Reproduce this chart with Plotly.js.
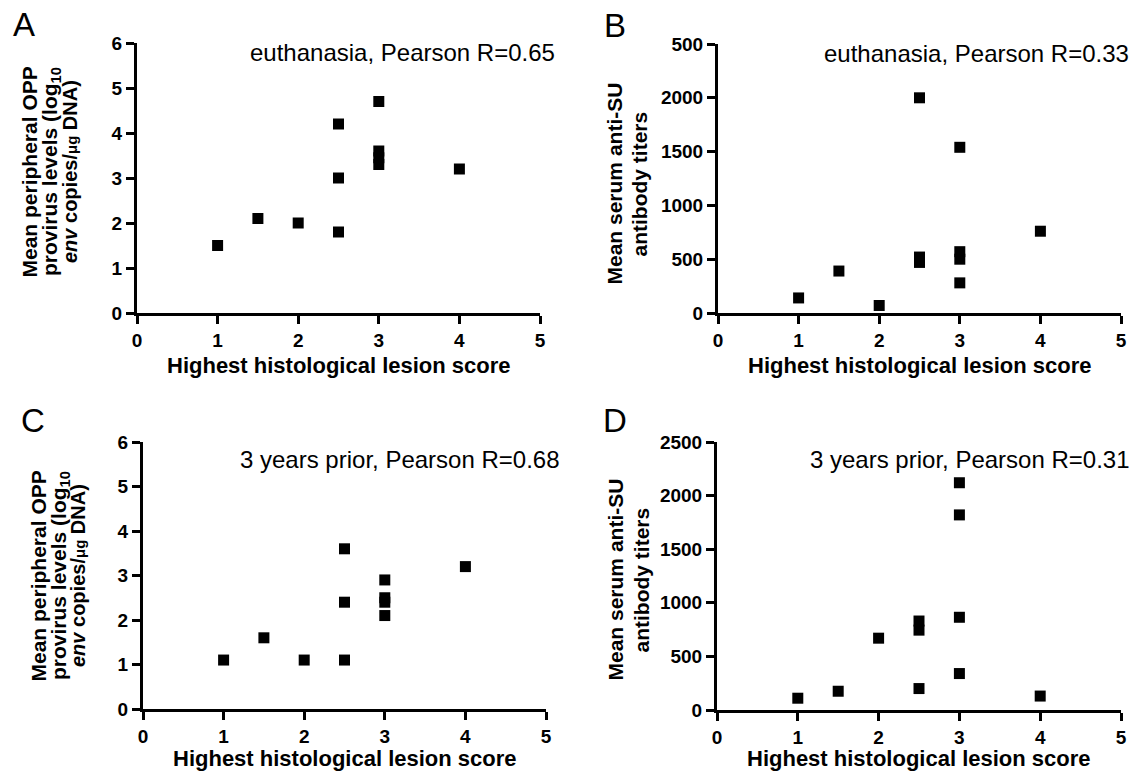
<!DOCTYPE html>
<html>
<head>
<meta charset="utf-8">
<script src="https://cdn.plot.ly/plotly-3.0.1.min.js"></script>
<style>
html,body{margin:0;padding:0;background:#fff;}
#chart{width:1134px;height:772px;}
</style>
</head>
<body>
<div id="chart"></div>
<script>
// ---- data ----
const lesionA = [1, 1.5, 2, 2.5, 2.5, 2.5, 3, 3, 3, 3, 4];
const proviralEuth = [1.5, 2.1, 2.0, 4.2, 3.0, 1.8, 4.7, 3.6, 3.45, 3.3, 3.2];

const lesionB = [1, 1.5, 2, 2.5, 2.5, 2.5, 3, 3, 3, 3, 4];
const titerEuth = [140, 390, 70, 2000, 520, 470, 1540, 570, 500, 280, 760];

const lesionC = [1, 1.5, 2, 2.5, 2.5, 2.5, 3, 3, 3, 3, 4];
const proviralPrior = [1.1, 1.6, 1.1, 3.6, 2.4, 1.1, 2.9, 2.5, 2.4, 2.1, 3.2];

const lesionD = [1, 1.5, 2, 2.5, 2.5, 2.5, 3, 3, 3, 3, 4];
const titerPrior = [110, 175, 670, 830, 745, 200, 2120, 1820, 865, 340, 130];

const xTicks = [0, 1, 2, 3, 4, 5];
const xTickText = ['0', '1', '2', '3', '4', '5'];
const provTicks = [0, 1, 2, 3, 4, 5, 6];
const provTickText = ['0', '1', '2', '3', '4', '5', '6'];
const titerTicks = [0, 500, 1000, 1500, 2000, 2500];
const titerTextB = ['0', '500', '1000', '1500', '2000', '500'];
const titerTextD = ['0', '500', '1000', '1500', '2000', '2500'];

const panelLabels = ['A', 'B', 'C', 'D'];
const notes = ['euthanasia, Pearson R=0.65', 'euthanasia, Pearson R=0.33',
               '3 years prior, Pearson R=0.68', '3 years prior, Pearson R=0.31'];
const xTitle = 'Highest histological lesion score';
const provTitle = ['Mean peripheral OPP', 'provirus levels (log<sub>10</sub>',
                   '<i>env</i> copies/<span style="font-size:15px">μg</span> DNA)'];
const titerTitle = ['Mean serum anti-SU', 'antibody titers'];

// ---- layout helpers (pixel -> paper) ----
const W = 1134, H = 772;
const px = v => v / W;
const py = v => 1 - v / H;
const FONT = 'Liberation Sans, Arial, sans-serif';
const bold = arr => arr.map(s => '<b>' + s + '</b>');

function xa(l, r, anchor) {
  return {
    domain: [px(l), px(r)], anchor: anchor, range: [0, 5],
    tickvals: xTicks, ticktext: bold(xTickText), showgrid: false, zeroline: false,
    showline: true, linewidth: 3, linecolor: '#000',
    ticks: 'outside', ticklen: 8, tickwidth: 3, tickcolor: '#000',
    tickfont: {family: FONT, size: 19, color: '#000', weight: 700},
    fixedrange: true
  };
}
function ya(t, b, anchor, rng, vals, text) {
  return {
    domain: [py(b), py(t)], anchor: anchor, range: rng,
    tickvals: vals, ticktext: bold(text), showgrid: false, zeroline: false,
    showline: true, linewidth: 3, linecolor: '#000',
    ticks: 'outside', ticklen: 8, tickwidth: 3, tickcolor: '#000',
    tickfont: {family: FONT, size: 19, color: '#000', weight: 700},
    fixedrange: true
  };
}

const mk = {symbol: 'square', size: 11, color: '#000'};
const traces = [
  {x: lesionA, y: proviralEuth, xaxis: 'x', yaxis: 'y', mode: 'markers', type: 'scatter', marker: mk, cliponaxis: false},
  {x: lesionB, y: titerEuth, xaxis: 'x2', yaxis: 'y2', mode: 'markers', type: 'scatter', marker: mk, cliponaxis: false},
  {x: lesionC, y: proviralPrior, xaxis: 'x3', yaxis: 'y3', mode: 'markers', type: 'scatter', marker: mk, cliponaxis: false},
  {x: lesionD, y: titerPrior, xaxis: 'x4', yaxis: 'y4', mode: 'markers', type: 'scatter', marker: mk, cliponaxis: false}
];

// panel geometry in pixels (ytl = left edge of each rotated title line box)
const P = [
  {l: 137, r: 540, t: 43, b: 313, tb: 365, letter: [24, 24], note: [557, 52], ytl: [15, 36, 57], yc: 172},
  {l: 718, r: 1121, t: 44, b: 313, tb: 365, letter: [615, 25], note: [1131, 53], ytl: [601, 626], yc: 184},
  {l: 143, r: 546, t: 442, b: 709, tb: 758, letter: [33, 420], note: [562, 459], ytl: [24, 45, 65], yc: 576},
  {l: 717, r: 1121, t: 442, b: 710, tb: 758, letter: [615, 420], note: [1132, 459], ytl: [601, 627], yc: 580}
];

const ann = [];
P.forEach((p, i) => {
  ann.push({text: panelLabels[i], x: px(p.letter[0]), y: py(p.letter[1]), xref: 'paper', yref: 'paper',
    xanchor: 'center', yanchor: 'middle', showarrow: false,
    font: {family: FONT, size: 33, color: '#000'}});
  ann.push({text: notes[i], x: px(p.note[0]), y: py(p.note[1]), xref: 'paper', yref: 'paper',
    xanchor: 'right', yanchor: 'middle', showarrow: false,
    font: {family: FONT, size: 24, color: '#000'}});
  ann.push({text: '<b>' + xTitle + '</b>', x: px((p.l + p.r) / 2), y: py(p.tb), xref: 'paper', yref: 'paper',
    xanchor: 'center', yanchor: 'middle', showarrow: false,
    font: {family: FONT, size: 22, color: '#000'}});
  const lines = (i % 2 === 0) ? provTitle : titerTitle;
  lines.forEach((ln, k) => {
    ann.push({text: '<b>' + ln + '</b>', x: px(p.ytl[k]), y: py(p.yc), xref: 'paper', yref: 'paper',
      xanchor: 'left', yanchor: 'middle', textangle: -90, showarrow: false,
      font: {family: FONT, size: (i % 2 === 0 && k === 2) ? 20 : 21, color: '#000'}});
  });
});

const layout = {
  width: W, height: H, margin: {l: 0, r: 0, t: 0, b: 0},
  paper_bgcolor: '#fff', plot_bgcolor: '#fff', showlegend: false,
  xaxis: xa(P[0].l, P[0].r, 'y'),
  yaxis: ya(P[0].t, P[0].b, 'x', [0, 6], provTicks, provTickText),
  xaxis2: xa(P[1].l, P[1].r, 'y2'),
  yaxis2: ya(P[1].t, P[1].b, 'x2', [0, 2500], titerTicks, titerTextB),
  xaxis3: xa(P[2].l, P[2].r, 'y3'),
  yaxis3: ya(P[2].t, P[2].b, 'x3', [0, 6], provTicks, provTickText),
  xaxis4: xa(P[3].l, P[3].r, 'y4'),
  yaxis4: ya(P[3].t, P[3].b, 'x4', [0, 2500], titerTicks, titerTextD),
  annotations: ann
};

Plotly.newPlot('chart', traces, layout, {displayModeBar: false, staticPlot: true});
</script>
</body>
</html>
